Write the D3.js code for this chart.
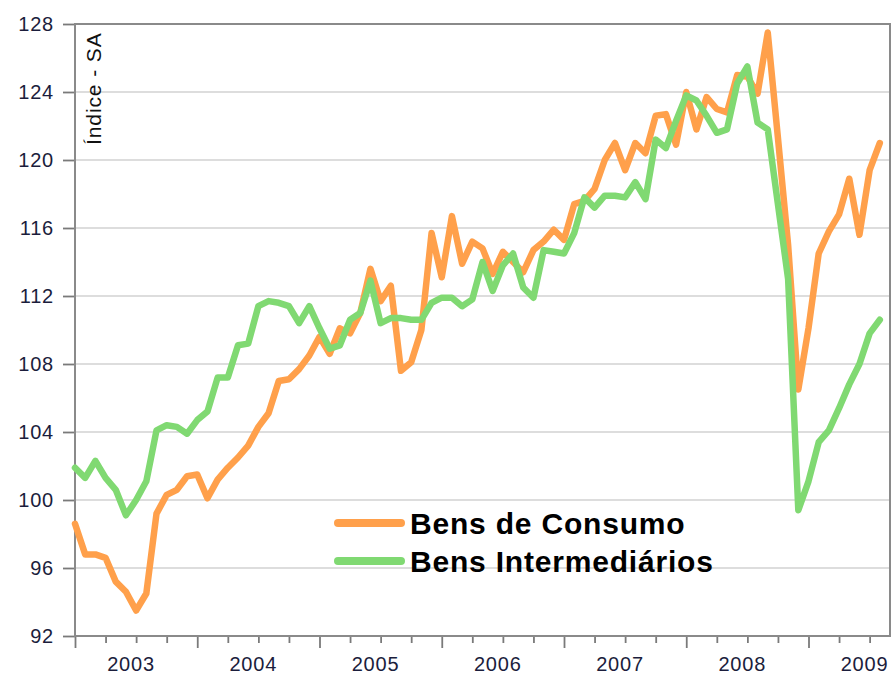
<!DOCTYPE html>
<html>
<head>
<meta charset="utf-8">
<script src="https://cdn.jsdelivr.net/npm/d3@7"></script>
<style>
  body { margin: 0; background: #fff; }
  text { font-family: "Liberation Sans", Arial, sans-serif; }
</style>
</head>
<body>
<svg id="chart" width="894" height="678"></svg>
<script>
// monthly series, 2003M01 .. 2009M08
const startYear = 2003
const yearLabels = ['2003', '2004', '2005', '2006', '2007', '2008', '2009']
const yTicks = [92, 96, 100, 104, 108, 112, 116, 120, 124, 128]

const bensConsumo = [
  98.6, 96.8, 96.8, 96.6, 95.2, 94.6, 93.5, 94.5, 99.2, 100.3,
  100.6, 101.4, 101.5, 100.1, 101.2, 101.9, 102.5, 103.2, 104.3, 105.1,
  107.0, 107.1, 107.7, 108.5, 109.6, 108.6, 110.1, 109.8, 111.0, 113.6,
  111.7, 112.6, 107.6, 108.1, 110.0, 115.7, 113.1, 116.7, 113.9, 115.2,
  114.8, 113.3, 114.6, 114.0, 113.4, 114.7, 115.2, 115.9, 115.3, 117.4,
  117.6, 118.3, 120.0, 121.0, 119.4, 121.0, 120.4, 122.6, 122.7, 120.9,
  124.0, 121.8, 123.7, 123.0, 122.8, 125.0, 124.9, 123.9, 127.5, 121.3,
  115.0, 106.5, 110.1, 114.5, 115.8, 116.8, 118.9, 115.6, 119.4, 121.0
]

const bensIntermediarios = [
  101.9, 101.3, 102.3, 101.3, 100.6, 99.1, 100.0, 101.1, 104.1, 104.4,
  104.3, 103.9, 104.7, 105.2, 107.2, 107.2, 109.1, 109.2, 111.4, 111.7,
  111.6, 111.4, 110.4, 111.4, 110.1, 108.9, 109.1, 110.6, 111.0, 112.9,
  110.4, 110.7, 110.7, 110.6, 110.6, 111.6, 111.9, 111.9, 111.4, 111.8,
  114.0, 112.3, 113.8, 114.5, 112.5, 111.9, 114.7, 114.6, 114.5, 115.7,
  117.8, 117.2, 117.9, 117.9, 117.8, 118.7, 117.7, 121.2, 120.7, 122.3,
  123.8, 123.5, 122.6, 121.6, 121.8, 124.5, 125.5, 122.2, 121.8, 117.4,
  113.0, 99.4, 101.1, 103.4, 104.1, 105.4, 106.8, 108.0, 109.8, 110.6
]

const series = [
  { name: 'Bens de Consumo', values: bensConsumo, color: '#ffa04b' },
  { name: 'Bens Intermediários', values: bensIntermediarios, color: '#80d972' }
]

const plotLeft = 75, plotRight = 890, plotTop = 24, plotBottom = 636
const svg = d3.select('#chart')

const x = d3.scaleLinear().domain([0, 80]).range([plotLeft, plotRight])
const y = d3.scaleLinear().domain([92, 128]).range([plotBottom, plotTop])

// gridlines
svg.append('g')
  .selectAll('line')
  .data(yTicks.slice(1, -1))
  .join('line')
  .attr('x1', plotLeft).attr('x2', plotRight)
  .attr('y1', d => y(d)).attr('y2', d => y(d))
  .attr('stroke', '#d2d2d2')
  .attr('stroke-width', 1.6)

// y axis
const yAxis = svg.append('g')
  .attr('transform', 'translate(' + plotLeft + ',0)')
  .call(d3.axisLeft(y).tickValues(yTicks).tickSize(12).tickPadding(9))
yAxis.select('.domain').remove()
yAxis.selectAll('line').attr('stroke', '#7a7a7a').attr('stroke-width', 1.8)
yAxis.selectAll('text')
  .attr('fill', '#1b1d3c')
  .style('font-size', '20px')
  .style('letter-spacing', '0.8px')

// x axis ticks (quarters, years longer)
const quarterTicks = d3.range(0, 80, 3)
const xAxis = svg.append('g')
  .attr('transform', 'translate(0,' + plotBottom + ')')
  .call(d3.axisBottom(x).tickValues(quarterTicks).tickSize(8).tickFormat(''))
xAxis.select('.domain').remove()
xAxis.selectAll('line')
  .attr('stroke', '#7a7a7a')
  .attr('stroke-width', 1.8)
  .attr('y2', d => d % 12 === 0 ? 12 : 7)

svg.append('g')
  .selectAll('text')
  .data(yearLabels)
  .join('text')
  .attr('x', (d, i) => x(i * 12 + 5.5))
  .attr('y', 671)
  .attr('text-anchor', 'middle')
  .attr('fill', '#1b1d3c')
  .style('font-size', '20px')
  .style('letter-spacing', '0.8px')
  .text(d => d)

// frame
svg.append('rect')
  .attr('x', plotLeft).attr('y', plotTop)
  .attr('width', plotRight - plotLeft).attr('height', plotBottom - plotTop)
  .attr('fill', 'none')
  .attr('stroke', '#8a8a8a')
  .attr('stroke-width', 2)

// axis title
svg.append('text')
  .attr('transform', 'translate(101,145) rotate(-90)')
  .attr('fill', '#111')
  .style('font-size', '21px')
  .style('letter-spacing', '0.9px')
  .text('Índice - SA')

// lines
const line = d3.line()
  .x((d, i) => x(i))
  .y(d => y(d))

svg.append('g')
  .selectAll('path')
  .data(series)
  .join('path')
  .attr('d', d => line(d.values))
  .attr('fill', 'none')
  .attr('stroke', d => d.color)
  .attr('stroke-width', 6.5)
  .attr('stroke-linejoin', 'round')
  .attr('stroke-linecap', 'round')

// legend
const legend = svg.append('g')
  .selectAll('g')
  .data(series)
  .join('g')
  .attr('transform', (d, i) => 'translate(338,' + (523 + i * 38) + ')')
legend.append('line')
  .attr('x1', 0).attr('x2', 63)
  .attr('stroke', d => d.color)
  .attr('stroke-width', 8)
  .attr('stroke-linecap', 'round')
legend.append('text')
  .attr('x', 72)
  .attr('y', 11)
  .attr('fill', '#000')
  .style('font-size', '30px')
  .style('font-weight', 'bold')
  .style('letter-spacing', '0.8px')
  .text(d => d.name)
</script>
</body>
</html>
